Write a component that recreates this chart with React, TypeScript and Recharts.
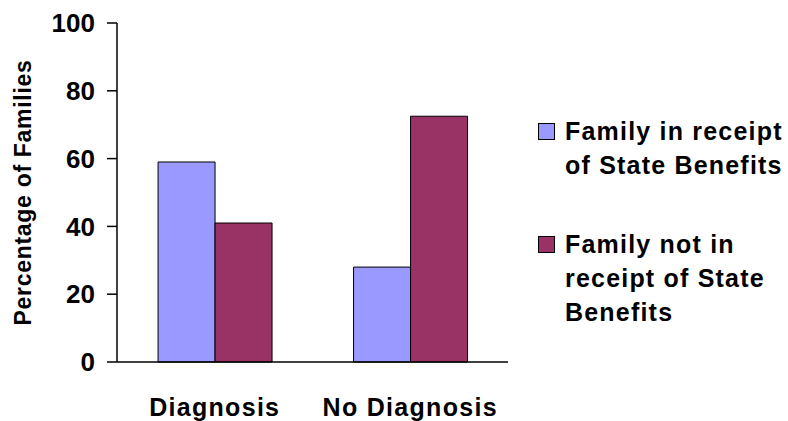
import React from 'react';
import { BarChart, Bar, XAxis, YAxis, Label } from 'recharts';

const categories = ['Diagnosis', 'No Diagnosis'];
const inReceipt = [59, 28];
const notInReceipt = [41, 72.5];
const seriesNames = ['Family in receipt of State Benefits', 'Family not in receipt of State Benefits'];
const seriesColors = ['#9999FF', '#993366'];
const yTicks = [0, 20, 40, 60, 80, 100];

const FONT = '"Liberation Sans", Arial, sans-serif';

const data = categories.map((c, i) => ({
  name: c,
  a: inReceipt[i],
  b: notInReceipt[i],
}));

const ChartLegend = () => (
  <div style={{ position: 'absolute', left: 538, top: 114, fontFamily: FONT }}>
    {seriesNames.map((n, i) => (
      <div key={n} style={{ display: 'flex', alignItems: 'flex-start', marginBottom: 45 }}>
        <div
          style={{
            width: 15,
            height: 15,
            marginTop: 9,
            background: seriesColors[i],
            border: '1px solid #000',
            flexShrink: 0,
          }}
        />
        <div
          style={{
            marginLeft: 10,
            width: 240,
            fontSize: 25,
            fontWeight: 'bold',
            letterSpacing: 1.2,
            lineHeight: '34px',
            color: '#000',
          }}
        >
          {n}
        </div>
      </div>
    ))}
  </div>
);

export default function App() {
  return (
    <div style={{ position: 'absolute', left: 0, top: 0, width: 788, height: 421, background: '#fff', overflow: 'hidden' }}>
      <BarChart
        width={788}
        height={421}
        data={data}
        margin={{ top: 23, right: 280, bottom: 0, left: 0 }}
        barCategoryGap="21%"
        barGap={0}
      >
        <XAxis
          dataKey="name"
          axisLine={{ stroke: '#000', strokeWidth: 1.5 }}
          tickLine={false}
          height={59}
          tickMargin={30}
          tick={{ fill: '#000', fontSize: 25, fontWeight: 'bold', fontFamily: FONT, letterSpacing: 1.3 }}
        />
        <YAxis
          width={117}
          domain={[0, 100]}
          ticks={yTicks}
          interval={0}
          axisLine={{ stroke: '#000', strokeWidth: 1.5 }}
          tickLine={{ stroke: '#000', strokeWidth: 1.5 }}
          tickSize={10}
          tickMargin={12}
          tick={{ fill: '#000', fontSize: 26, fontWeight: 'bold', fontFamily: FONT }}
        >
          <Label
            value="Percentage of Families"
            angle={-90}
            position="insideLeft"
            offset={23}
            style={{ textAnchor: 'middle', fill: '#000', fontSize: 23, fontWeight: 'bold', fontFamily: FONT, letterSpacing: 0.7 }}
          />
        </YAxis>
        <Bar dataKey="a" name={seriesNames[0]} fill={seriesColors[0]} stroke="#000" strokeWidth={1} isAnimationActive={false} />
        <Bar dataKey="b" name={seriesNames[1]} fill={seriesColors[1]} stroke="#000" strokeWidth={1} isAnimationActive={false} />
      </BarChart>
      <ChartLegend />
    </div>
  );
}
